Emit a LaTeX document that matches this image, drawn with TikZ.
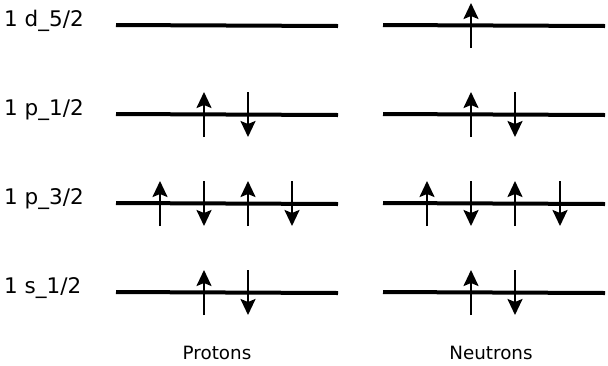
\documentclass[tikz,border=0pt]{standalone}
\usepackage{fontspec}
\setmainfont{DejaVu Sans}
\usetikzlibrary{arrows.meta}
\begin{document}
\begin{tikzpicture}[x=1pt,y=-1pt,
  level/.style={line width=4pt},
  spin/.style={line width=2.2pt,-{Stealth[length=16pt,width=15pt,inset=3pt]}},
  lbl/.style={anchor=base west,inner sep=0pt,font=\fontsize{21.5}{21.5}\selectfont},
  grp/.style={anchor=base,inner sep=0pt,font=\fontsize{18.3}{18.3}\selectfont}]
\useasboundingbox (0,0) rectangle (608,365);
% levels
\foreach \n/\y in {d/25,p1/114,p3/203,s/292}{
  \coordinate (L\n a) at (116,\y);
  \coordinate (L\n b) at (338,\y+1);
  \coordinate (R\n a) at (383,\y);
  \coordinate (R\n b) at (605,\y+1);
  \draw[level] (L\n a) -- (L\n b);
  \draw[level] (R\n a) -- (R\n b);
}
% labels
\node[lbl] (ld) at (4,26) {1 d\_5/2};
\node[lbl] (lp1) at (4,115) {1 p\_1/2};
\node[lbl] (lp3) at (4,204) {1 p\_3/2};
\node[lbl] (ls) at (4,293) {1 s\_1/2};
\node[grp] (prot) at (217,359.5) {Protons};
\node[grp] (neut) at (491,359.5) {Neutrons};
% spins: up arrows
\foreach \x/\y in {471/25, 204/114, 471/114, 160/203, 248/203, 427/203, 515/203, 204/292, 471/292}{
  \coordinate (u\x-\y a) at (\x,\y+23);
  \coordinate (u\x-\y b) at (\x,\y-22);
  \draw[spin] (u\x-\y a) -- (u\x-\y b);
}
% spins: down arrows
\foreach \x/\y in {248/114, 515/114, 204/203, 292/203, 471/203, 560/203, 248/292, 515/292}{
  \coordinate (d\x-\y a) at (\x,\y-22);
  \coordinate (d\x-\y b) at (\x,\y+23);
  \draw[spin] (d\x-\y a) -- (d\x-\y b);
}
\end{tikzpicture}
\end{document}
